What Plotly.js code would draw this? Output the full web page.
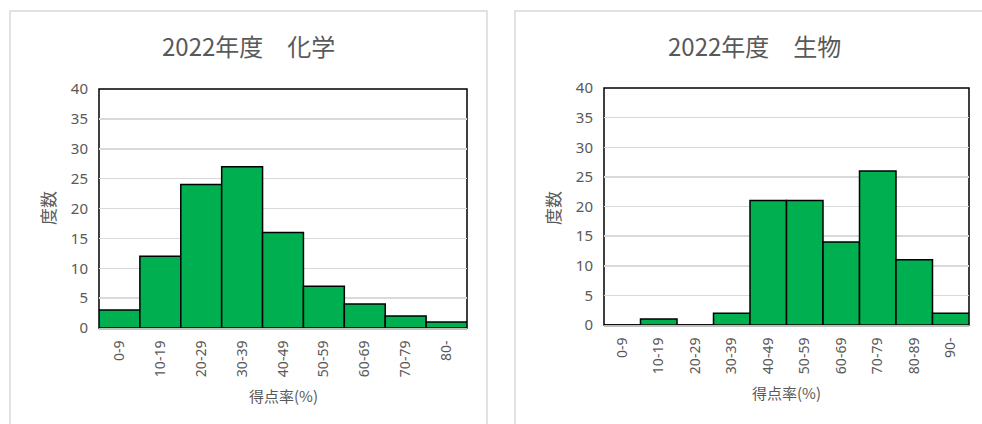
<!DOCTYPE html>
<html>
<head>
<meta charset="utf-8">
<script src="https://cdn.plot.ly/plotly-3.0.1.min.js"></script>
<style>
  html, body { margin: 0; padding: 0; background: #ffffff; }
  #chart { width: 982px; height: 424px; }
</style>
</head>
<body>
<div id="chart"></div>
<script>
// Score-rate bins and student counts, FY2022
const chemBins = ["0-9", "10-19", "20-29", "30-39", "40-49", "50-59", "60-69", "70-79", "80-"];
const chemCounts = [3, 12, 24, 27, 16, 7, 4, 2, 1];

const bioBins = ["0-9", "10-19", "20-29", "30-39", "40-49", "50-59", "60-69", "70-79", "80-89", "90-"];
const bioCounts = [0, 1, 0, 2, 21, 21, 14, 26, 11, 2];

const chemTitle = "2022年度　化学";
const bioTitle = "2022年度　生物";
const xTitle = "得点率(%)";
const yTitle = "度数";
const yTicks = [0, 5, 10, 15, 20, 25, 30, 35, 40];

const W = 982, H = 424;
const FONT = "'Noto Sans CJK JP', 'Noto Sans', sans-serif";
const TICKFONT = "'Noto Sans', 'Noto Sans CJK JP', sans-serif";
const GREY = "#595959";

// pixel helpers -> paper fractions
const px = v => v / W;
const py = v => 1 - v / H;

const barStyle = {
  type: "bar",
  marker: { color: "#00B050", line: { color: "#000000", width: 1.5 } },
  hoverinfo: "x+y"
};

const traces = [
  Object.assign({ x: chemBins, y: chemCounts, xaxis: "x", yaxis: "y" }, barStyle),
  Object.assign({ x: bioBins, y: bioCounts, xaxis: "x2", yaxis: "y2" }, barStyle)
];

function xAxis(domain, anchor) {
  return {
    domain: domain, anchor: anchor, type: "category",
    tickangle: -90, ticks: "", showgrid: false,
    showline: true, linecolor: "#BFBFBF", linewidth: 2,
    tickfont: { family: TICKFONT, size: 14, color: GREY },
    ticklabelstandoff: 5, fixedrange: true
  };
}
function yAxis(domain, anchor) {
  return {
    domain: domain, anchor: anchor, range: [0, 40],
    tickvals: yTicks, ticks: "", showline: false,
    showgrid: true, gridcolor: "#D9D9D9", gridwidth: 1.5, zeroline: false,
    tickfont: { family: TICKFONT, size: 15, color: GREY },
    ticklabelstandoff: 10, fixedrange: true
  };
}

// plot areas in pixels
const P1 = { l: 99, r: 467, t: 89, b: 328 };
const P2 = { l: 604, r: 969, t: 88, b: 325 };

const layout = {
  width: W, height: H,
  margin: { l: 0, r: 0, t: 0, b: 0 },
  paper_bgcolor: "#ffffff", plot_bgcolor: "#ffffff",
  showlegend: false, bargap: 0,
  xaxis: xAxis([px(P1.l), px(P1.r)], "y"),
  yaxis: yAxis([py(P1.b), py(P1.t)], "x"),
  xaxis2: xAxis([px(P2.l), px(P2.r)], "y2"),
  yaxis2: yAxis([py(P2.b), py(P2.t)], "x2"),
  shapes: [
    // chart frames
    { type: "rect", xref: "paper", yref: "paper", x0: px(10), x1: px(487), y0: -0.05, y1: py(11),
      line: { color: "#D9D9D9", width: 1.5 }, layer: "below" },
    { type: "rect", xref: "paper", yref: "paper", x0: px(515), x1: px(993), y0: -0.05, y1: py(11),
      line: { color: "#D9D9D9", width: 1.5 }, layer: "below" },
    // plot-area borders
    { type: "rect", xref: "x domain", yref: "y domain", x0: 0, x1: 1, y0: 0, y1: 1,
      line: { color: "#000000", width: 1.5 }, layer: "below" },
    { type: "rect", xref: "x2 domain", yref: "y2 domain", x0: 0, x1: 1, y0: 0, y1: 1,
      line: { color: "#000000", width: 1.5 }, layer: "below" }
  ],
  annotations: [
    { text: chemTitle, xref: "paper", yref: "paper", x: px(248.5), y: py(45), showarrow: false,
      xanchor: "center", yanchor: "middle", font: { family: FONT, size: 24, color: GREY } },
    { text: bioTitle, xref: "paper", yref: "paper", x: px(754), y: py(45), showarrow: false,
      xanchor: "center", yanchor: "middle", font: { family: FONT, size: 24, color: GREY } },
    { text: xTitle, xref: "paper", yref: "paper", x: px((P1.l + P1.r) / 2), y: py(395), showarrow: false,
      xanchor: "center", yanchor: "middle", font: { family: FONT, size: 15, color: GREY } },
    { text: xTitle, xref: "paper", yref: "paper", x: px((P2.l + P2.r) / 2), y: py(392), showarrow: false,
      xanchor: "center", yanchor: "middle", font: { family: FONT, size: 15, color: GREY } },
    { text: yTitle, xref: "paper", yref: "paper", x: px(47), y: py(208), showarrow: false, textangle: -90,
      xanchor: "center", yanchor: "middle", font: { family: FONT, size: 17, color: GREY } },
    { text: yTitle, xref: "paper", yref: "paper", x: px(552), y: py(208), showarrow: false, textangle: -90,
      xanchor: "center", yanchor: "middle", font: { family: FONT, size: 17, color: GREY } }
  ]
};

Plotly.newPlot("chart", traces, layout, { displayModeBar: false, staticPlot: true });
</script>
</body>
</html>
